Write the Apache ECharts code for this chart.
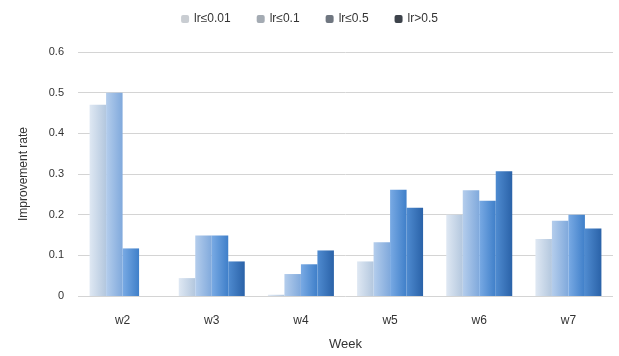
<!DOCTYPE html>
<html>
<head>
<meta charset="utf-8">
<script src="https://cdn.jsdelivr.net/npm/echarts@6/dist/echarts.min.js"></script>
<style>
  html, body { margin: 0; padding: 0; background: #fff; }
  #chart { width: 619px; height: 356px; }
</style>
</head>
<body>
<div id="chart"></div>
<script>
// Weekly improvement rate by learning-rate band
const weeks = ['w2', 'w3', 'w4', 'w5', 'w6', 'w7'];
const seriesNames = ['lr≤0.01', 'lr≤0.1', 'lr≤0.5', 'lr>0.5'];
const band1 = [0.47, 0.044, 0.003, 0.085, 0.2, 0.14];
const band2 = [0.5, 0.149, 0.054, 0.132, 0.26, 0.185];
const band3 = [0.117, 0.149, 0.078, 0.261, 0.234, 0.2];
const band4 = [0, 0.085, 0.112, 0.217, 0.307, 0.166];
const yTicks = [0, 0.1, 0.2, 0.3, 0.4, 0.5, 0.6];

const palette = [
  ['#dfe8f3', '#b3c7de'],
  ['#b4cdec', '#80a9dc'],
  ['#79aae4', '#3f7fc9'],
  ['#4f8bd0', '#2a62a8']
];
const legendColors = ['#c9cdd2', '#a4abb3', '#6f7680', '#3d434b'];

function grad(c) {
  return new echarts.graphic.LinearGradient(0, 0, 1, 0, [
    { offset: 0, color: c[0] },
    { offset: 1, color: c[1] }
  ]);
}

const values = [band1, band2, band3, band4];
const chart = echarts.init(document.getElementById('chart'));
chart.setOption({
  animation: false,
  textStyle: { fontFamily: 'Liberation Sans, Arial, sans-serif' },
  legend: {
    top: 8,
    left: 'center',
    itemWidth: 8,
    itemHeight: 8,
    itemGap: 26,
    textStyle: { fontSize: 12, color: '#333' },
    data: seriesNames.map((n, i) => ({ name: n, itemStyle: { color: legendColors[i] } }))
  },
  grid: { left: 78, right: 6, top: 52, bottom: 58 },
  xAxis: {
    type: 'category',
    data: weeks,
    name: 'Week',
    nameLocation: 'middle',
    nameGap: 42,
    nameTextStyle: { fontSize: 13, color: '#333' },
    axisLine: { show: false },
    axisTick: { show: false },
    axisLabel: { fontSize: 12, color: '#333', margin: 19 }
  },
  yAxis: {
    type: 'value',
    min: 0,
    max: 0.6,
    interval: 0.1,
    name: 'Improvement rate',
    nameLocation: 'middle',
    nameGap: 48,
    nameTextStyle: { fontSize: 12, color: '#333' },
    axisLine: { show: false },
    axisTick: { show: false },
    axisLabel: {
      fontSize: 11, color: '#333', margin: 14,
      formatter: v => {
        const t = yTicks.find(x => Math.abs(x - v) < 1e-9);
        return t === 0 ? '0' : String(t);
      }
    },
    splitLine: { lineStyle: { color: '#d4d4d4', width: 1 } }
  },
  series: seriesNames.map((n, i) => ({
    name: n,
    type: 'bar',
    data: values[i],
    barGap: '0%',
    barCategoryGap: '26%',
    itemStyle: { color: grad(palette[i]) }
  }))
});
</script>
</body>
</html>
